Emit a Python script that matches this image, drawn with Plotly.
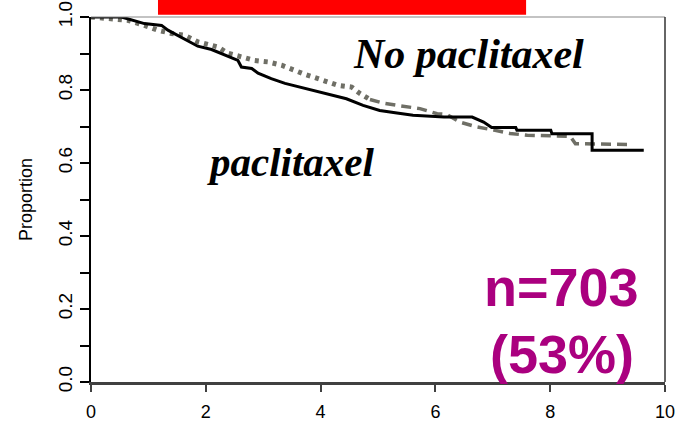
import plotly.graph_objects as go

# Paclitaxel (solid black) survival curve
pac_time = [0, 0.53, 0.93, 1.23, 1.34, 1.57, 1.86, 2.10, 2.33, 2.56, 2.62, 2.80, 2.91,
            3.14, 3.38, 3.64, 3.87, 4.16, 4.45, 4.74, 5.03, 5.33, 5.61, 6.15, 6.64,
            6.84, 6.98, 7.40, 7.42, 8.01, 8.03, 8.73, 8.73, 9.63]
pac_surv = [1.0, 1.0, 0.982, 0.977, 0.964, 0.945, 0.920, 0.911, 0.895, 0.881, 0.863,
            0.859, 0.846, 0.831, 0.818, 0.808, 0.799, 0.786, 0.776, 0.758, 0.744, 0.737,
            0.731, 0.726, 0.726, 0.712, 0.697, 0.697, 0.690, 0.690, 0.680, 0.680, 0.635,
            0.635]

# No paclitaxel (grey dashed) survival curve
nopac_time = [0, 0.24, 0.64, 0.93, 1.16, 1.40, 1.63, 1.86, 2.21, 2.38, 2.62, 2.85, 3.08,
              3.32, 3.69, 4.10, 4.30, 4.54, 4.69, 4.86, 5.09, 5.33, 5.73, 6.03, 6.20,
              6.43, 6.72, 7.02, 7.30, 7.60, 8.35, 8.44, 9.35]
nopac_surv = [1.0, 0.996, 0.991, 0.977, 0.964, 0.955, 0.950, 0.932, 0.918, 0.901, 0.890,
              0.881, 0.877, 0.868, 0.845, 0.822, 0.813, 0.808, 0.790, 0.774, 0.764, 0.758,
              0.749, 0.735, 0.733, 0.712, 0.699, 0.690, 0.681, 0.676, 0.673, 0.653, 0.651]

x_ticks = [0, 2, 4, 6, 8, 10]
y_ticks = [0.0, 0.2, 0.4, 0.6, 0.8, 1.0]
y_tick_labels = ["0.0", "0.2", "0.4", "0.6", "0.8", "1.0"]

# index where the grey curve's dotted look turns into dashes
split = nopac_time.index(4.86)

fig = go.Figure()
fig.add_trace(go.Scatter(x=nopac_time[:split + 1], y=nopac_surv[:split + 1], mode="lines",
                         line=dict(color="#6f6f66", width=5, dash="4px,5px"),
                         name="No paclitaxel", showlegend=False))
fig.add_trace(go.Scatter(x=nopac_time[split:], y=nopac_surv[split:], mode="lines",
                         line=dict(color="#6f6f66", width=3.5, dash="10px,6px"),
                         name="No paclitaxel", showlegend=False))
fig.add_trace(go.Scatter(x=pac_time, y=pac_surv, mode="lines",
                         line=dict(color="black", width=3),
                         name="paclitaxel", showlegend=False))

tickfont = dict(family="Liberation Sans, Arial", size=18, color="black")
fig.update_layout(
    width=677, height=426,
    margin=dict(l=91, r=12, t=17, b=44, autoexpand=False),
    paper_bgcolor="white", plot_bgcolor="white",
    xaxis=dict(range=[0, 10], tickvals=x_ticks, ticktext=[str(v) for v in x_ticks],
               showgrid=False, zeroline=False, showline=True, linecolor="#404040",
               linewidth=2.5, ticks="outside", ticklen=7, tickwidth=1.5,
               tickcolor="#404040", tickfont=tickfont, automargin=False,
               ticklabelstandoff=5),
    yaxis=dict(range=[0, 1], tickvals=y_ticks, ticktext=y_tick_labels, tickangle=-90,
               showgrid=False, zeroline=False, showline=True, linecolor="black",
               linewidth=2, ticks="outside", ticklen=9, tickwidth=1.5, tickcolor="black",
               tickfont=dict(tickfont, size=19), automargin=False,
               minor=dict(dtick=0.1, ticks="outside", ticklen=9, tickwidth=1.5,
                          tickcolor="black", showgrid=False),
               title=dict(text="Proportion", standoff=18,
                          font=dict(family="Liberation Sans, Arial", size=18, color="black"))),
    font=dict(family="Liberation Sans, Arial"),
)

# box: top and right borders
fig.add_shape(type="line", xref="paper", yref="paper", x0=0, x1=1, y0=1, y1=1,
              line=dict(color="#888888", width=1.2))
fig.add_shape(type="line", xref="paper", yref="paper", x0=1, x1=1, y0=0, y1=1,
              line=dict(color="#333333", width=1.5))
# red bar above plot
fig.add_shape(type="rect", xref="paper", yref="paper", x0=0.1167, x1=0.758,
              y0=1.0063, y1=1.05, fillcolor="#ff0000", line=dict(width=0))

serif = dict(family="Liberation Serif, Times New Roman", color="black",
             weight="bold", style="italic")
fig.add_annotation(x=6.58, y=0.898, text="No paclitaxel", showarrow=False,
                   font=dict(serif, size=42))
fig.add_annotation(x=3.476, y=0.604, text="paclitaxel", showarrow=False,
                   font=dict(serif, size=41))
purple = dict(family="Liberation Sans, Arial", size=54, color="#aa007f", weight="bold")
fig.add_annotation(x=8.19, y=0.2605, text="n=703", showarrow=False, font=purple)
fig.add_annotation(x=8.21, y=0.078, text="(53%)", showarrow=False, font=purple)

fig.write_html("out.html", config={"displayModeBar": False},
               post_script="document.body.style.margin='0';")
